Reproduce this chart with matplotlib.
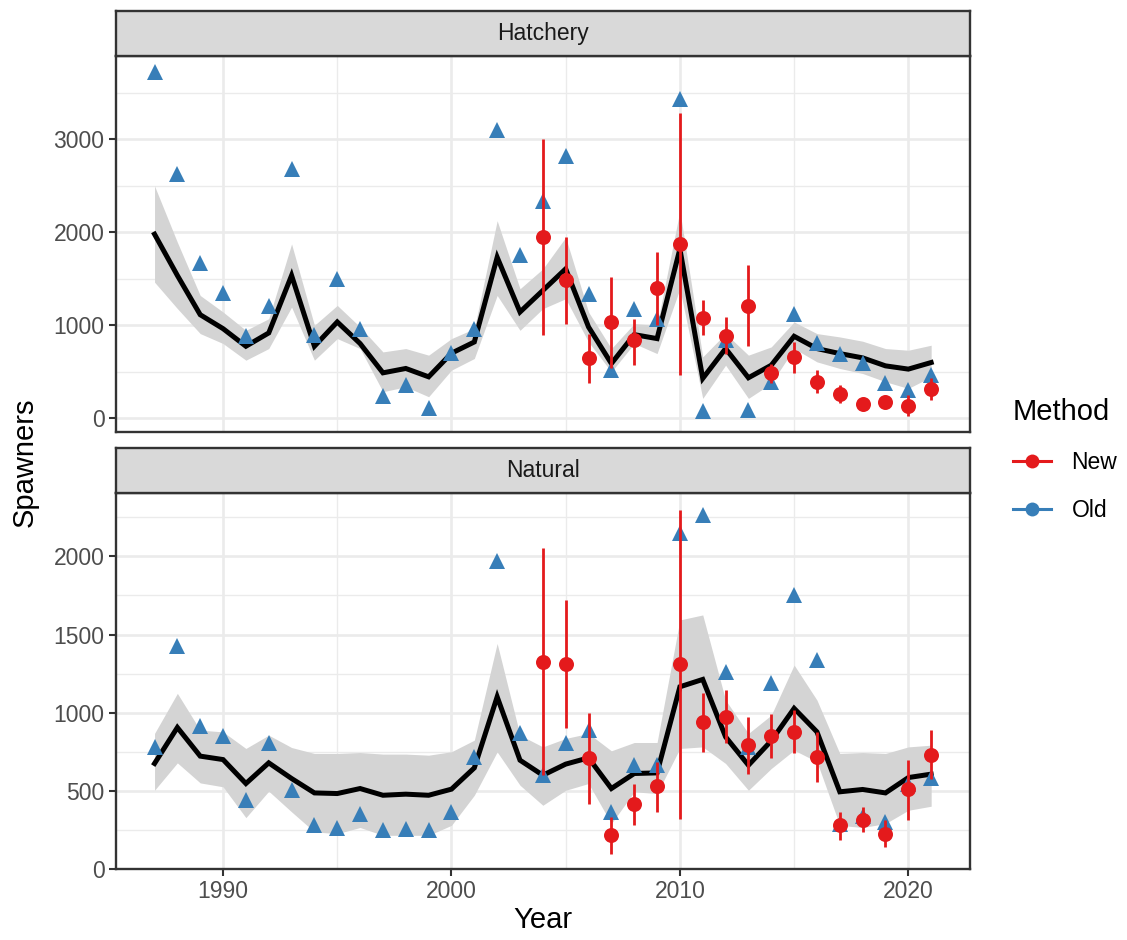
import matplotlib
matplotlib.use("Agg")
import matplotlib.pyplot as plt
from matplotlib.lines import Line2D
from matplotlib.ticker import MultipleLocator
import numpy as np

plt.rcParams['font.family'] = ['Liberation Sans', 'DejaVu Sans']

years = list(range(1987, 2022))
new_years = list(range(2004, 2022))

# Hatchery
hatch_old = [3725, 2630, 1665, 1345, 885, 1205, 2680, 893, 1500, 965, 235, 360, 110, 700, 965,
             3100, 1755, 2340, 2825, 1340, 518, 1180, 1070, 3430, 75, 840, 85, 393, 1125, 805,
             696, 590, 385, 304, 471]
hatch_fit = [1980, 1536, 1114, 964, 775, 918, 1536, 775, 1036, 804, 489, 536, 446, 700, 821,
             1732, 1143, 1375, 1607, 982, 589, 900, 857, 1821, 429, 750, 436, 571, 882, 750,
             696, 650, 564, 529, 600]
hatch_hi = [2500, 1893, 1321, 1143, 946, 1071, 1875, 1000, 1214, 982, 714, 750, 679, 857, 964,
            2125, 1393, 1607, 1946, 1143, 750, 1018, 1000, 2232, 661, 911, 679, 768, 1036, 911,
            875, 829, 750, 732, 786]
hatch_lo = [1464, 1180, 911, 804, 625, 750, 1196, 625, 857, 750, 286, 339, 232, 518, 643,
            1321, 946, 1179, 1286, 821, 500, 804, 696, 1393, 214, 571, 214, 375, 750, 607,
            536, 482, 393, 321, 446]
hatch_new = [1946, 1482, 650, 1036, 839, 1404, 1875, 1082, 882, 1207, 482, 661, 393, 257, 150, 179, 136, 314]
hatch_new_lo = [893, 1018, 375, 536, 571, 1000, 464, 893, 696, 779, 375, 482, 268, 161, 120, 125, 29, 196]
hatch_new_hi = [3000, 1946, 911, 1518, 1071, 1786, 3286, 1268, 1089, 1650, 589, 821, 518, 357, 180, 232, 250, 429]

# Natural
nat_old = [782, 1426, 915, 853, 442, 808, 506, 281, 267, 352, 254, 260, 249, 367, 718,
           1970, 868, 601, 804, 889, 367, 665, 665, 2147, 2264, 1262, 782, 1192, 1753, 1337,
           292, 339, 303, 548, 586]
nat_fit = [676, 906, 723, 701, 548, 680, 580, 488, 484, 516, 473, 480, 473, 512, 648,
           1102, 697, 601, 672, 712, 516, 612, 616, 1166, 1213, 846, 665, 821, 1028, 878,
           495, 510, 488, 586, 608]
nat_hi = [868, 1124, 889, 878, 772, 857, 778, 740, 740, 746, 736, 736, 729, 751, 825,
          1443, 857, 782, 836, 868, 757, 810, 810, 1593, 1625, 1081, 868, 985, 1305, 1081,
          740, 746, 740, 782, 793]
nat_lo = [505, 680, 552, 527, 330, 499, 367, 239, 228, 267, 217, 217, 217, 281, 473,
          750, 537, 409, 505, 548, 292, 495, 484, 772, 782, 676, 505, 644, 761, 687,
          281, 267, 292, 377, 403]
nat_new = [1326, 1309, 708, 217, 416, 531, 1311, 942, 974, 793, 853, 878, 719, 281, 318, 228, 510, 729]
nat_new_lo = [601, 900, 420, 100, 281, 367, 324, 751, 804, 612, 708, 740, 559, 186, 239, 143, 313, 580]
nat_new_hi = [2051, 1721, 996, 335, 548, 687, 2296, 1124, 1145, 974, 991, 1017, 878, 367, 399, 313, 701, 893]

panels = ["Hatchery", "Natural"]
method_labels = ["New", "Old"]

RED = "#E41A1C"
BLUE = "#377EB8"
RIBBON = "#D4D4D4"
GRID = "#EBEBEB"
BORDER = "#333333"
TICKTXT = "#4D4D4D"

W, H = 1127, 940
fig = plt.figure(figsize=(W / 100, H / 100), dpi=100)

def fx(px):
    return px / W

def fy(py):
    return 1 - py / H

left, right = 115.7, 970.0
ax1 = fig.add_axes([fx(left), fy(431.7), fx(right - left), fy(56) - fy(431.7)])
ax2 = fig.add_axes([fx(left), fy(869.3), fx(right - left), fy(493) - fy(869.3)])
s1 = fig.add_axes([fx(left), fy(56), fx(right - left), fy(10.7) - fy(56)])
s2 = fig.add_axes([fx(left), fy(493), fx(right - left), fy(447.7) - fy(493)])

def draw(ax, old, fit, lo, hi, new, nlo, nhi, ylim, major, minor):
    ax.fill_between(years, lo, hi, color=RIBBON, lw=0, zorder=2)
    ax.plot(years, fit, color="black", lw=3.6, zorder=3, solid_joinstyle='miter')
    ax.plot(years, old, ls='none', marker='^', ms=12, color=BLUE, mew=0, zorder=4)
    ax.vlines(new_years, nlo, nhi, color=RED, lw=2.0, zorder=5)
    ax.plot(new_years, new, ls='none', marker='o', ms=10.8, color=RED, mew=0, zorder=6)
    ax.set_xlim(1985.3, 2022.7)
    ax.set_ylim(*ylim)
    ax.xaxis.set_major_locator(MultipleLocator(10))
    ax.xaxis.set_minor_locator(MultipleLocator(5))
    ax.yaxis.set_major_locator(MultipleLocator(major))
    ax.yaxis.set_minor_locator(MultipleLocator(minor))
    ax.grid(which='major', color=GRID, lw=1.9, zorder=0)
    ax.grid(which='minor', color=GRID, lw=0.95, zorder=0)
    ax.set_axisbelow(True)
    for sp in ax.spines.values():
        sp.set_color(BORDER)
        sp.set_linewidth(1.7)
    ax.tick_params(axis='both', which='major', length=5, width=1.5, color=BORDER,
                   labelsize=16.5, labelcolor=TICKTXT, pad=3)
    ax.tick_params(axis='both', which='minor', length=0)

draw(ax1, hatch_old, hatch_fit, hatch_lo, hatch_hi, hatch_new, hatch_new_lo, hatch_new_hi,
     (-144, 3896), 1000, 500)
draw(ax2, nat_old, nat_fit, nat_lo, nat_hi, nat_new, nat_new_lo, nat_new_hi,
     (0, 2404), 500, 250)
ax1.tick_params(axis='x', which='both', bottom=False, labelbottom=False)
ax2.set_xlabel("Year", fontsize=21, labelpad=2)

for s, name in zip([s1, s2], panels):
    s.set_facecolor("#D9D9D9")
    s.set_xticks([])
    s.set_yticks([])
    for sp in s.spines.values():
        sp.set_color(BORDER)
        sp.set_linewidth(1.7)
    s.text(0.5, 0.5, name, ha='center', va='center', fontsize=16.5, color="#1A1A1A",
           transform=s.transAxes)

fig.text(fx(25), fy(462), "Spawners", rotation=90, ha='center', va='center', fontsize=21)

handles = [Line2D([0], [0], color=RED, lw=2.2, marker='o', ms=10, mew=0),
           Line2D([0], [0], color=BLUE, lw=2.2, marker='o', ms=10, mew=0)]
leg = fig.legend(handles, method_labels, title="Method", loc='center left',
                 bbox_to_anchor=(fx(1013), fy(460)), frameon=False, fontsize=16.5,
                 title_fontsize=21, handlelength=1.65, labelspacing=1.05, handletextpad=0.9,
                 borderpad=0, borderaxespad=0)
leg._legend_box.align = "left"
leg._legend_box.sep = 18

fig.savefig("out.png", dpi=100)
